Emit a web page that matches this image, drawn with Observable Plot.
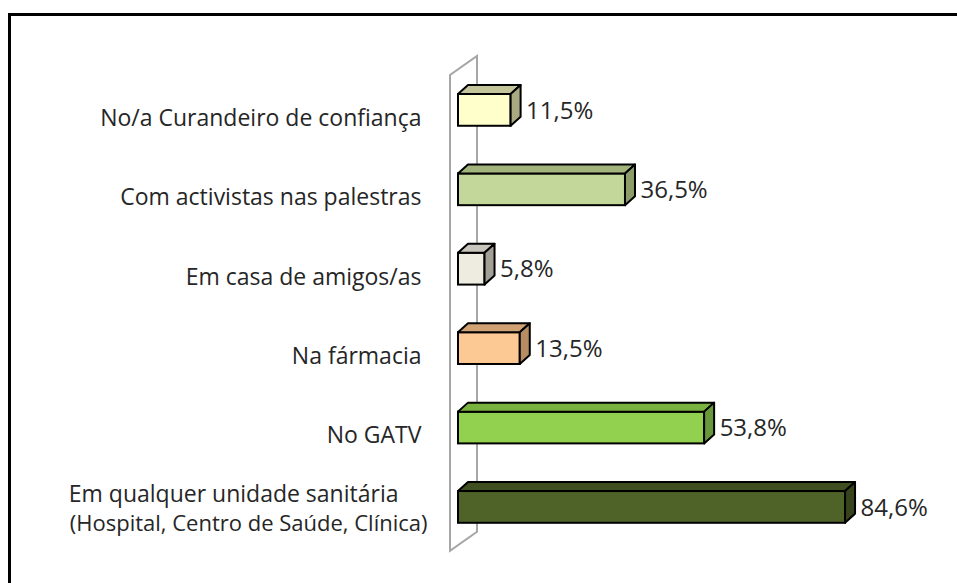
<!DOCTYPE html>
<html><head><meta charset="utf-8">
<script src="https://cdn.jsdelivr.net/npm/d3@7"></script>
<script src="https://cdn.jsdelivr.net/npm/@observablehq/plot@0.6"></script>
<style>
html,body{margin:0;padding:0;background:#fff;overflow:hidden;width:957px;height:583px;}
#chart{position:absolute;left:0;top:0;}
#frame{position:absolute;left:8px;top:13px;width:1200px;height:1200px;border:3px solid #000;box-sizing:border-box;pointer-events:none;}
</style></head><body>
<div id="chart"></div><div id="frame"></div>
<script>
const categories = [
  "No/a Curandeiro de confiança",
  "Com activistas nas palestras",
  "Em casa de amigos/as",
  "Na fármacia",
  "No GATV",
  "Em qualquer unidade sanitária\n(Hospital, Centro de Saúde, Clínica)"
];
const values = [11.5, 36.5, 5.8, 13.5, 53.8, 84.6];
const valueLabels = ["11,5%", "36,5%", "5,8%", "13,5%", "53,8%", "84,6%"];

const frontColors = ["#FFFFCC", "#C4D79B", "#EEECE1", "#FCC994", "#92D050", "#4F6228"];
const topColors   = ["#C5C59C", "#A2B47C", "#C8C6BC", "#D0A273", "#7AB23F", "#3F4F20"];
const sideColors  = ["#AAAA82", "#8C9D69", "#A2A096", "#B68C63", "#68983A", "#36431B"];

const data = categories.map((c, i) => ({
  category: c, value: values[i], label: valueLabels[i],
  front: frontColors[i], top: topColors[i], side: sideColors[i]
}));

const FONT = "'Open Sans', sans-serif";
const DEPTH_X = 10, DEPTH_Y = -9;

function bandwidthOf(y) {
  return typeof y.bandwidth === "function" ? y.bandwidth() : y.bandwidth;
}

// back wall drawn from the scales
function wall(index, scales) {
  const x = scales.x, y = scales.y, bw = bandwidthOf(y);
  const xl = x(0) - 8, xr = x(0) + 19;
  const yt = y(categories[0]) - 19, yb = y(categories[categories.length - 1]) + bw + 28;
  const g = d3.create("svg:g");
  g.append("path")
    .attr("d", `M${xl},${yb}L${xl},${yt}L${xr},${yt - 19}L${xr},${yb - 19}Z`)
    .attr("fill", "none").attr("stroke", "#A6A6A6").attr("stroke-width", 2);
  return g.node();
}

// top and side faces of the 3D bars
function faces(index, scales) {
  const x = scales.x, y = scales.y, bw = bandwidthOf(y);
  const g = d3.create("svg:g");
  for (const d of data) {
    const x0 = x(0), x1 = x(d.value), y0 = y(d.category), y1 = y0 + bw;
    g.append("path")
      .attr("d", `M${x0},${y0}L${x0 + DEPTH_X},${y0 + DEPTH_Y}L${x1 + DEPTH_X},${y0 + DEPTH_Y}L${x1},${y0}Z`)
      .attr("fill", d.top).attr("stroke", "#000").attr("stroke-width", 2).attr("stroke-linejoin", "round");
    g.append("path")
      .attr("d", `M${x1},${y0}L${x1 + DEPTH_X},${y0 + DEPTH_Y}L${x1 + DEPTH_X},${y1 + DEPTH_Y}L${x1},${y1}Z`)
      .attr("fill", d.side).attr("stroke", "#000").attr("stroke-width", 2).attr("stroke-linejoin", "round");
  }
  return g.node();
}

const single = data.filter(d => !d.category.includes("\n"));
const multi = data.filter(d => d.category.includes("\n"));

const chart = Plot.plot({
  width: 957,
  height: 583,
  marginLeft: 458,
  marginRight: 41.5,
  marginTop: 54.3,
  marginBottom: 20.5,
  style: {fontFamily: FONT, background: "transparent"},
  x: {domain: [0, 100], axis: null},
  y: {domain: categories, axis: null, paddingInner: 0.6, paddingOuter: 0.5, round: false},
  color: {type: "identity"},
  marks: [
    wall,
    Plot.barX(data, {x: "value", y: "category", fill: "front", stroke: "#000", strokeWidth: 2}),
    faces,
    Plot.text(data, {x: "value", y: "category", text: "label", textAnchor: "start", dx: 15, dy: 0.5,
      fontSize: 24, fill: "#262626"}),
    Plot.text(single, {x: 0, y: "category", text: "category", textAnchor: "end", dx: -37, dy: 8,
      fontSize: 23, fill: "#262626"}),
    Plot.text(multi, {x: 0, y: "category", text: d => d.category.split("\n")[0], textAnchor: "end", dx: -60, dy: -12.5,
      fontSize: 23, fill: "#262626"}),
    Plot.text(multi, {x: 0, y: "category", text: d => d.category.split("\n")[1], textAnchor: "end", dx: -31, dy: 16.5,
      fontSize: 22, fill: "#262626"})
  ]
});
document.getElementById("chart").appendChild(chart);
</script>
</body></html>
